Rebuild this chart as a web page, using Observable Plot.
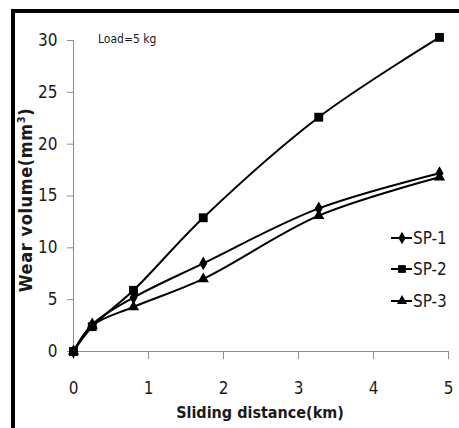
<!DOCTYPE html>
<html>
<head>
<meta charset="utf-8">
<script src="https://cdn.jsdelivr.net/npm/d3@7"></script>
<script src="https://cdn.jsdelivr.net/npm/@observablehq/plot@0.6"></script>
<style>
  html, body { margin: 0; padding: 0; background: #fff; }
  #wrap { position: relative; width: 459px; height: 428px; overflow: hidden; }
  #frame { position: absolute; left: 11px; top: 9px; right: 0; bottom: -10px;
           border-top: 4px solid #000; border-left: 4px solid #000; pointer-events: none; }
  #legend { position: absolute; left: 391px; top: 222px; font-family: "DejaVu Sans Condensed", "Liberation Sans Narrow", sans-serif;
            font-size: 17px; color: #1a1a1a; }
  .item { display: flex; align-items: center; height: 31.5px; }
  .item svg { display: block; }
</style>
</head>
<body>
<div id="wrap"><div id="chart"></div><div id="frame"></div><div id="legend"></div></div>
<script>
const distance = [0, 0.25, 0.8, 1.73, 3.27, 4.88];
const seriesNames = ["SP-1", "SP-2", "SP-3"];
const sp1 = [0, 2.6, 5.2, 8.5, 13.8, 17.2];
const sp2 = [0, 2.4, 5.9, 12.9, 22.6, 30.3];
const sp3 = [0, 2.5, 4.3, 7.0, 13.1, 16.8];
const symbols = ["diamond", "square", "triangle"];
const xTicks = [0, 1, 2, 3, 4, 5];
const yTicks = [0, 5, 10, 15, 20, 25, 30];

const values = [sp1, sp2, sp3];
const rows = [];
seriesNames.forEach((s, i) => distance.forEach((d, j) => rows.push({series: s, x: d, y: values[i][j]})));

const font = '"DejaVu Sans Condensed", "Liberation Sans Narrow", sans-serif';
const grey = "#8c8c8c";

const plot = Plot.plot({
  width: 459, height: 428,
  marginLeft: 73, marginRight: 11, marginTop: 40, marginBottom: 77,
  style: {fontFamily: font, fontSize: "17px", color: "#1a1a1a", background: "transparent"},
  x: {domain: [0, 5]},
  y: {domain: [0, 30]},
  symbol: {domain: seriesNames, range: symbols},
  marks: [
    Plot.axisX({ticks: xTicks, tickSize: 8, tickPadding: 22, stroke: grey, fill: "#1a1a1a", label: null, tickFormat: d => d}),
    Plot.axisY({ticks: yTicks, tickSize: 6, tickPadding: 10, stroke: grey, fill: "#1a1a1a", label: null, tickFormat: d => d}),
    Plot.ruleX([0], {stroke: grey}),
    Plot.ruleY([0], {stroke: grey}),
    Plot.line(rows, {x: "x", y: "y", z: "series", stroke: "#000", strokeWidth: 2, curve: "catmull-rom"}),
    Plot.dot(rows.filter(d => d.series === "SP-2"), {x: "x", y: "y", symbol: "series", fill: "#000", stroke: "none", r: 5}),
    Plot.dot(rows.filter(d => d.series !== "SP-2"), {x: "x", y: "y", symbol: "series", fill: "#000", stroke: "none", r: 4.2})
  ]
});

const svg = d3.select(plot);
svg.append("text")
  .attr("x", 260).attr("y", 418)
  .attr("text-anchor", "middle")
  .style("font-family", font).style("font-weight", "bold").style("font-size", "16px").attr("fill", "#1a1a1a")
  .text("Sliding distance(km)");
const yl = svg.append("text")
  .attr("transform", "translate(32,200) rotate(-90)")
  .attr("text-anchor", "middle")
  .style("font-family", font).style("font-weight", "bold").style("font-size", "18px").attr("fill", "#1a1a1a")
  .style("letter-spacing", "0.6px");
yl.append("tspan").text("Wear volume(mm");
yl.append("tspan").attr("dy", -7).style("font-size", "11px").text("3");
yl.append("tspan").attr("dy", 7).text(")");
svg.append("text")
  .attr("x", 98).attr("y", 43)
  .attr("text-anchor", "start")
  .style("font-family", font).style("font-size", "12px").attr("fill", "#1a1a1a")
  .text("Load=5 kg");

document.getElementById("chart").appendChild(plot);

// legend
const sym = {diamond: d3.symbolDiamond, square: d3.symbolSquare, triangle: d3.symbolTriangle};
const legend = d3.select("#legend");
seriesNames.forEach((s, i) => {
  const it = legend.append("div").attr("class", "item");
  const sv = it.append("svg").attr("width", 22).attr("height", 14);
  sv.append("line").attr("x1", 0).attr("x2", 21).attr("y1", 7).attr("y2", 7).attr("stroke", "#000").attr("stroke-width", 2);
  sv.append("path").attr("transform", "translate(11,7)").attr("d", d3.symbol(sym[symbols[i]], i === 1 ? 60 : 45)()).attr("fill", "#000");
  it.append("span").text(s);
});
</script>
</body>
</html>
